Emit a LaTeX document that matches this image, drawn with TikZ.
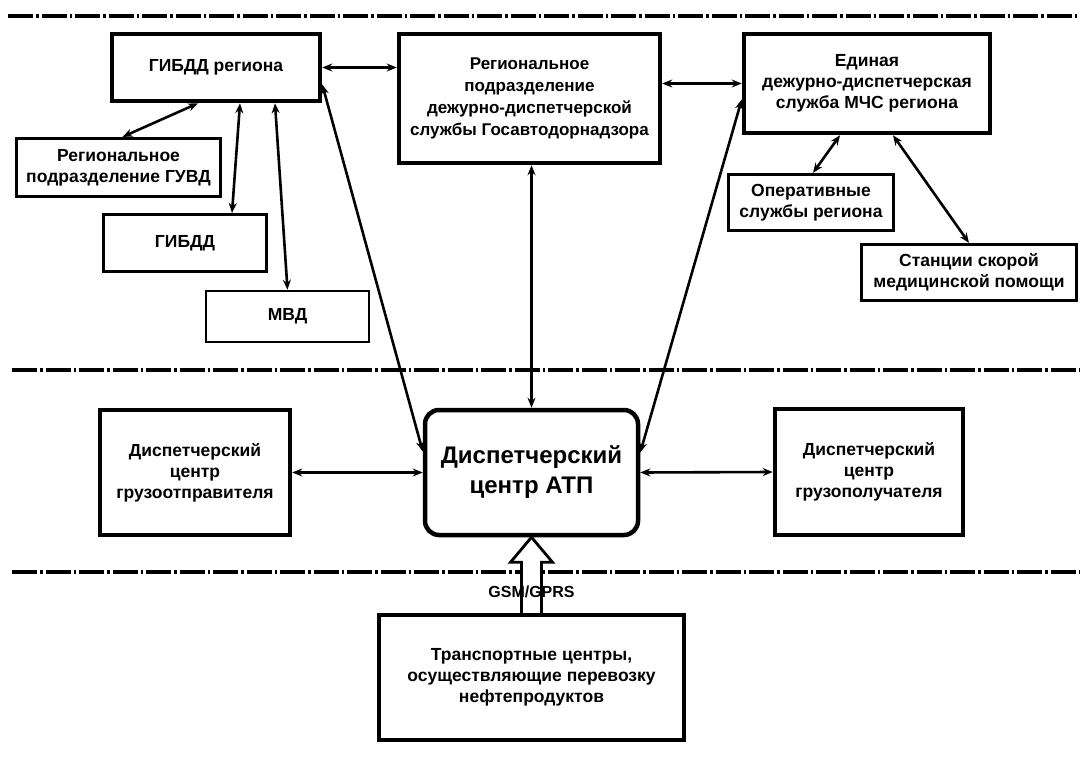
\documentclass[tikz,border=0pt]{standalone}
\usepackage{fontspec}
\setmainfont{Liberation Sans}
\usetikzlibrary{arrows.meta,calc}
\begin{document}
\begin{tikzpicture}[x=1pt,y=-1pt,
  box/.style={draw, line width=4.5pt, align=center, inner sep=0pt,
    font=\bfseries\fontsize{17.5}{21}\selectfont},
  thinbox/.style={box, line width=3.2pt},
  link/.style={line width=2.6pt, {Stealth[length=10pt,width=8pt]}-{Stealth[length=10pt,width=8pt]}},
  sep/.style={line width=3.5pt, dash pattern=on 25pt off 3pt on 2.5pt off 3pt}]
\useasboundingbox (0,0) rectangle (1080,762);
% separators
\draw[sep] (8,16) -- (1080,16);
\draw[sep] (12,370) -- (1080,370);
\draw[sep] (12,572) -- (1080,572);
% nodes
\node[box, minimum width=208pt, minimum height=67pt] (gibddreg) at (216,67.5) {ГИБДД региона};
\node[thinbox, minimum width=204pt, minimum height=58pt] (guvd) at (118.5,167.5) {Региональное\\подразделение ГУВД};
\node[thinbox, minimum width=163pt, minimum height=57pt] (gibdd) at (185,243) {ГИБДД};
\node[thinbox, line width=2.6pt, minimum width=163pt, minimum height=51pt] (mvd) at (287.5,316.5) {МВД};
\node[box, minimum width=261pt, minimum height=129pt, font=\bfseries\fontsize{17}{22}\selectfont] (gosavto) at (529.5,98.5) {Региональное\\подразделение\\дежурно-диспетчерской\\службы Госавтодорнадзора};
\node[box, minimum width=246pt, minimum height=99pt] (eddc) at (867,83.5) {Единая\\дежурно-диспетчерская\\служба МЧС региона};
\node[thinbox, minimum width=165pt, minimum height=56pt] (oper) at (811,202.5) {Оперативные\\службы региона};
\node[thinbox, minimum width=215pt, minimum height=56pt] (skor) at (969,272.5) {Станции скорой\\медицинской помощи};
\node[box, minimum width=190pt, minimum height=125pt] (gruzotpr) at (195,472.5) {Диспетчерский\\центр\\грузоотправителя};
\node[box, rounded corners=14pt, minimum width=213pt, minimum height=125pt,
  font=\bfseries\fontsize{24}{30}\selectfont] (atp) at (531.5,472.5) {Диспетчерский\\центр АТП};
\node[box, minimum width=188pt, minimum height=126pt] (gruzpol) at (869,472) {Диспетчерский\\центр\\грузополучателя};
\node[box, minimum width=305pt, minimum height=125pt] (transp) at (531.5,677.5) {Транспортные центры,\\осуществляющие перевозку\\нефтепродуктов};
% connectors
\draw[link] (gibddreg.east) -- (gibddreg.east -| gosavto.west);
\draw[link] (eddc.west -| gosavto.east) -- (eddc.west);
\draw[link] ([xshift=-18pt]gibddreg.south) -- ([xshift=4pt]guvd.north);
\draw[link] ([xshift=24pt]gibddreg.south) -- ([xshift=47pt]gibdd.north);
\draw[link] ([xshift=59pt]gibddreg.south) -- (mvd.north);
\draw[link] ([yshift=-17pt]gibddreg.east) -- ([yshift=21pt]atp.west);
\draw[link] (atp.north |- gosavto.south) -- (atp.north);
\draw[link] ([yshift=-16pt]eddc.west) -- ([yshift=20pt]atp.east);
\draw[link] ([xshift=-27pt]eddc.south) -- ([xshift=2pt]oper.north);
\draw[link] ([xshift=26pt]eddc.south) -- (skor.north);
\draw[link] (gruzotpr.east) -- (atp.west);
\draw[link] (atp.east) -- (gruzpol.west);
% hollow arrow
\draw[line width=2.8pt, fill=white, line join=miter]
  ($(transp.north)+(-10,0)$) -- ($(atp.south)+(-10,25)$) -- ($(atp.south)+(-21,25)$)
  -- (atp.south) -- ($(atp.south)+(21,25)$) -- ($(atp.south)+(10,25)$)
  -- ($(transp.north)+(10,0)$);
\node[font=\bfseries\fontsize{16}{18}\selectfont] (gsm) at (531.5,592) {GSM/GPRS};
\end{tikzpicture}
\end{document}
